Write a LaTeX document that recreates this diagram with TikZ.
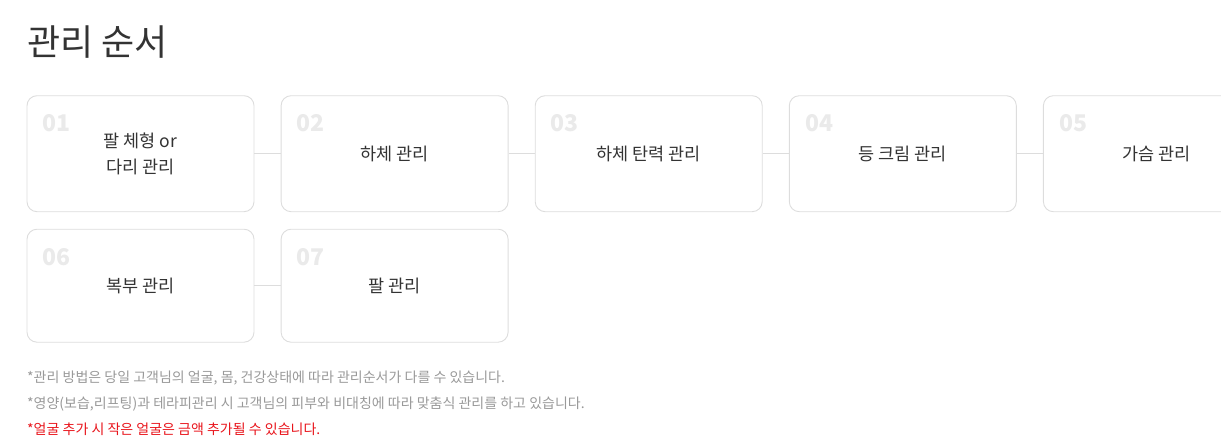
\documentclass[tikz,border=0pt]{standalone}
\usepackage{fontspec}
\setmainfont{Noto Sans CJK KR}
\usepackage{tikz}
\usetikzlibrary{positioning,calc}
\definecolor{txtdark}{HTML}{333333}
\definecolor{numgray}{HTML}{EAEAEA}
\definecolor{boxline}{HTML}{DDDDDD}
\definecolor{notegray}{HTML}{999999}
\definecolor{notered}{HTML}{E8141B}

\begin{document}
\begin{tikzpicture}[x=1pt,y=-1pt,
    card/.style={draw=boxline, line width=0.9pt, rounded corners=10pt, fill=white,
      minimum width=227pt, minimum height=116pt, inner sep=0pt, align=center,
      text=txtdark, font=\fontsize{17.5}{26}\selectfont},
    lowcard/.style={card, minimum height=113pt},
    numtag/.style={anchor=base west, inner sep=0pt, text=numgray,
      font=\fontsize{23}{23}\selectfont\bfseries},
    link/.style={draw=boxline, line width=0.8pt},
    note/.style={anchor=base west, inner sep=0pt, font=\fontsize{14}{14}\selectfont}]
  \useasboundingbox (0,0) rectangle (1221,447);
  % title
  \node[anchor=base west, inner sep=0pt, text=txtdark, font=\fontsize{36}{36}\selectfont]
    (title) at (27,55) {관리 순서};
  % first row of cards
  \node[card] (c1) at (140.5,153.7) {팔 체형 or\\다리 관리};
  \node[card] (c2) [right=26.2pt of c1] {하체 관리};
  \node[card] (c3) [right=26.2pt of c2] {하체 탄력 관리};
  \node[card] (c4) [right=26.2pt of c3] {등 크림 관리};
  \node[card] (c5) [right=26.2pt of c4] {가슴 관리};
  % second row of cards
  \node[lowcard] (c6) at (140.5,285.7) {복부 관리};
  \node[lowcard] (c7) [right=26.2pt of c6] {팔 관리};
  % step numbers
  \foreach \n in {1,...,7}
    \node[numtag] (n\n) at ($(c\n.north west)+(16,36.4)$) {0\n};
  % links between cards
  \draw[link] (c1) -- (c2);
  \draw[link] (c2) -- (c3);
  \draw[link] (c3) -- (c4);
  \draw[link] (c4) -- (c5);
  \draw[link] (c6) -- (c7);
  % notes
  \node[note, text=notegray] (note1) at (27,382) {*관리 방법은 당일 고객님의 얼굴, 몸, 건강상태에 따라 관리순서가 다를 수 있습니다.};
  \node[note, text=notegray] (note2) at (27,408) {*영양(보습,리프팅)과 테라피관리 시 고객님의 피부와 비대칭에 따라 맞춤식 관리를 하고 있습니다.};
  \node[note, text=notered] (note3) at (27,434) {*얼굴 추가 시 작은 얼굴은 금액 추가될 수 있습니다.};
\end{tikzpicture}
\end{document}
